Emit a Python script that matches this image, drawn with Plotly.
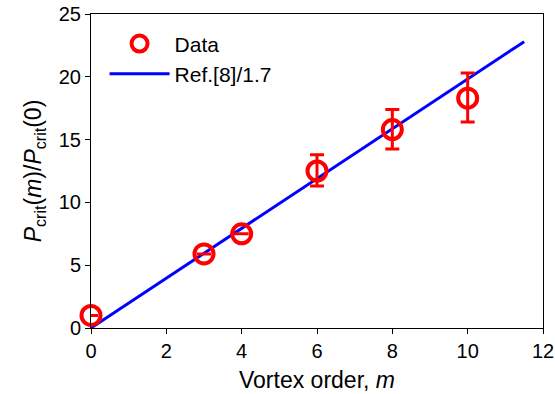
import plotly.graph_objects as go

m_data = [0, 3, 4, 6, 8, 10]
p_data = [1.0, 5.9, 7.5, 12.5, 15.8, 18.3]
err_plus = [0, 0, 0, 1.3, 1.6, 2.0]
err_minus = [0, 0, 0, 1.2, 1.55, 1.9]

m_ref = [0, 11.5]
p_ref = [0, 22.8]

fig = go.Figure()
fig.add_trace(go.Scatter(
    x=m_ref, y=p_ref, mode="lines", name="Ref.[8]/1.7",
    line=dict(color="#0000ff", width=3),
))
fig.add_trace(go.Scatter(
    x=m_data, y=p_data, mode="markers", name="Data",
    marker=dict(symbol="circle-open", size=19, color="#ff0000", line=dict(width=4, color="#ff0000")),
    error_y=dict(type="data", symmetric=False, array=err_plus, arrayminus=err_minus,
                 color="#ff0000", thickness=3, width=7),
))

font = "Liberation Sans, Arial, sans-serif"
fig.update_layout(
    width=555, height=394,
    margin=dict(l=91, r=12, t=14, b=66),
    paper_bgcolor="white", plot_bgcolor="white",
    font=dict(family=font, size=20, color="black"),
    showlegend=True,
    legend=dict(x=0.03, y=0.97, xanchor="left", yanchor="top", traceorder="reversed",
                bgcolor="rgba(0,0,0,0)", font=dict(size=21), itemwidth=60, tracegroupgap=0),
    xaxis=dict(range=[0, 12], tickvals=[0, 2, 4, 6, 8, 10, 12], showgrid=False, zeroline=False,
               showline=True, linecolor="black", linewidth=1, mirror=True, automargin=False,
               ticks="outside", ticklen=5, tickcolor="black", tickfont=dict(size=20),
               title=dict(text="Vortex order, <i>m</i>", standoff=10, font=dict(size=23))),
    yaxis=dict(range=[0, 25], tickvals=[0, 5, 10, 15, 20, 25], showgrid=False, zeroline=False,
               showline=True, linecolor="black", linewidth=1, mirror=True, automargin=False,
               ticks="outside", ticklen=5, tickcolor="black", tickfont=dict(size=20),
               title=dict(text="<i>P</i><sub>crit</sub>(<i>m</i>)/<i>P</i><sub>crit</sub>(0)", standoff=10, font=dict(size=23))),
)
fig.update_traces(cliponaxis=False)
fig.write_html("out.html")
